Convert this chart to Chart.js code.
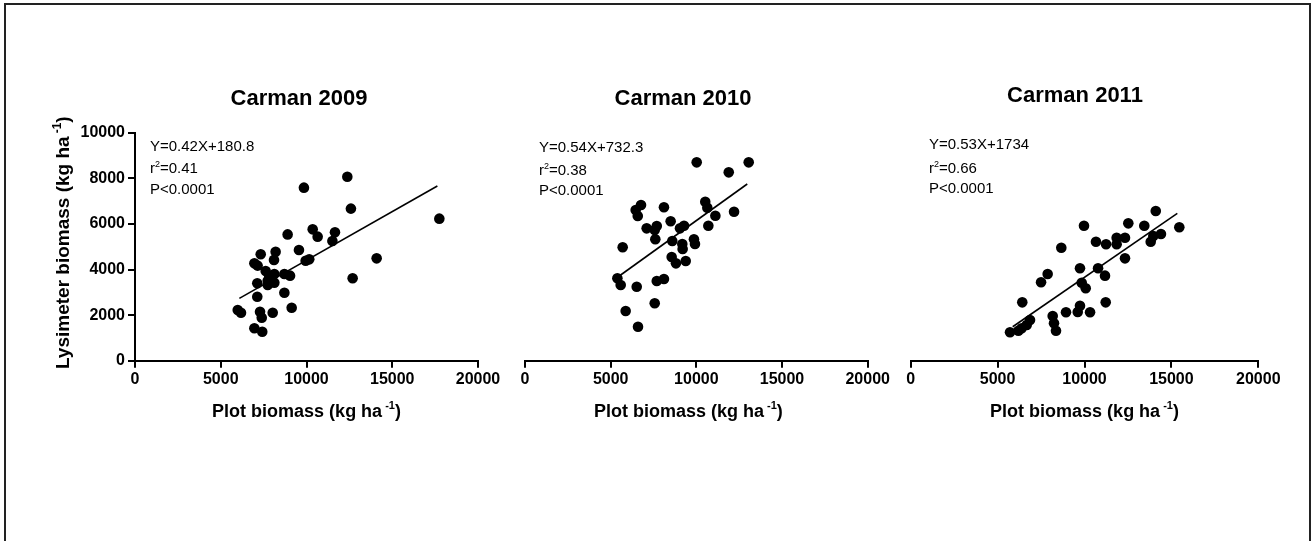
<!DOCTYPE html>
<html>
<head>
<meta charset="utf-8">
<script src="https://cdn.jsdelivr.net/npm/chart.js@4"></script>
<style>
  html, body { margin: 0; padding: 0; background: #fff; overflow: hidden; }
  #wrap { position: relative; width: 1313px; height: 541px; }
  #wrap canvas { position: absolute; left: 0; top: 0; }
  #frame { position: absolute; left: 4px; top: 3px; width: 1303px; height: 600px; border: 2px solid #222; }
</style>
</head>
<body>
<div id="wrap">
  <div id="frame"></div>
  <canvas id="c2009" width="1313" height="541"></canvas>
  <canvas id="c2010" width="1313" height="541"></canvas>
  <canvas id="c2011" width="1313" height="541"></canvas>
</div>
<script>
// plot biomass (x) vs lysimeter biomass (y), kg/ha
const x2009 = [12380, 9850, 12590, 17745, 8900, 10360, 10650, 11660, 11510, 9560, 14090, 12690, 7330, 8200, 8105, 6960, 7150, 9950, 10160, 7620, 8125, 7830, 8710, 9040, 7130, 7740, 8125, 7740, 8710, 7130, 9135, 5990, 6180, 7290, 7390, 8030, 6960, 7420];
const y2009 = [8070, 7590, 6670, 6230, 5540, 5760, 5440, 5630, 5250, 4855, 4490, 3615, 4670, 4780, 4420, 4270, 4170, 4385, 4445, 3935, 3800, 3685, 3800, 3730, 3395, 3320, 3420, 3510, 2980, 2805, 2325, 2225, 2105, 2150, 1885, 2105, 1420, 1270];

const x2010 = [10020, 13055, 11890, 10520, 10640, 12200, 11110, 10700, 6770, 6460, 6580, 8110, 8500, 7100, 7690, 7570, 9045, 9280, 7605, 8595, 9180, 9200, 9860, 9920, 5700, 8560, 8810, 9380, 5390, 5585, 6520, 7690, 8110, 7570, 5875, 6595];
const y2010 = [8700, 8700, 8260, 6970, 6710, 6535, 6360, 5920, 6830, 6610, 6345, 6730, 6115, 5805, 5910, 5730, 5805, 5920, 5325, 5250, 5120, 4900, 5325, 5120, 4975, 4550, 4270, 4370, 3615, 3320, 3245, 3495, 3585, 2520, 2180, 1490];

const x2011 = [14100, 15455, 12520, 13440, 9970, 14400, 13810, 13960, 11850, 12330, 11850, 10660, 11240, 8665, 12330, 9740, 10780, 11180, 7880, 7500, 9840, 10070, 6420, 11220, 8170, 8245, 8360, 8935, 9740, 9610, 10320, 6865, 6675, 6385, 6195, 5715];
const y2011 = [6565, 5850, 6025, 5920, 5920, 5555, 5220, 5470, 5395, 5395, 5105, 5220, 5105, 4955, 4490, 4055, 4055, 3730, 3805, 3440, 3420, 3175, 2560, 2560, 1960, 1640, 1315, 2125, 2410, 2135, 2125, 1785, 1565, 1420, 1315, 1245];

// fitted line end points
const fit2009x = [6085, 17630], fit2009y = [2735, 7660];
const fit2010x = [5500, 12970], fit2010y = [3715, 7750];
const fit2011x = [5870, 15340], fit2011y = [1490, 6465];

const panelTitles = ['Carman 2009', 'Carman 2010', 'Carman 2011'];
const equations = ['Y=0.42X+180.8', 'Y=0.54X+732.3', 'Y=0.53X+1734'];
const rSquared = ['=0.41', '=0.38', '=0.66'];
const pValues = ['P<0.0001', 'P<0.0001', 'P<0.0001'];
const xTicks = [0, 5000, 10000, 15000, 20000];
const yTicks = [0, 2000, 4000, 6000, 8000, 10000];

const FONT = '"Liberation Sans", Arial, Helvetica, sans-serif';

function toPts(xs, ys) {
  return xs.map((x, i) => ({ x: x, y: ys[i] }));
}

// draws a run of text pieces, some raised as superscript
function drawRich(ctx, x, y, parts, size, weight, align) {
  const big = weight + ' ' + size + 'px ' + FONT;
  const small = weight + ' ' + Math.round(size * 0.62) + 'px ' + FONT;
  let w = 0;
  parts.forEach(p => { ctx.font = p.sup ? small : big; w += ctx.measureText(p.t).width + (p.gap || 0); });
  let cx = align === 'center' ? x - w / 2 : x;
  ctx.textAlign = 'left';
  ctx.textBaseline = 'alphabetic';
  parts.forEach(p => {
    ctx.font = p.sup ? small : big;
    cx += (p.gap || 0);
    ctx.fillText(p.t, cx, p.sup ? y - size * 0.42 : y);
    cx += ctx.measureText(p.t).width;
  });
}

const panelText = {
  id: 'panelText',
  afterDraw(chart, args, opts) {
    const ctx = chart.ctx;
    const a = chart.chartArea;
    const i = opts.index;
    ctx.save();
    ctx.fillStyle = '#000';
    // panel title
    ctx.font = 'bold 22px ' + FONT;
    ctx.textAlign = 'center';
    ctx.textBaseline = 'alphabetic';
    ctx.fillText(panelTitles[i], opts.titleX, opts.titleY);
    // x axis title
    drawRich(ctx, (a.left + a.right) / 2 + opts.xtOff, 417,
      [{ t: 'Plot biomass (kg ha' }, { t: '-1', sup: true, gap: 3 }, { t: ')' }], 18, 'bold', 'center');
    // regression text
    drawRich(ctx, opts.textX, opts.lines[0], [{ t: equations[i] }], 15, 'normal', 'left');
    drawRich(ctx, opts.textX, opts.lines[1], [{ t: 'r' }, { t: '2', sup: true }, { t: rSquared[i] }], 15, 'normal', 'left');
    drawRich(ctx, opts.textX, opts.lines[2], [{ t: pValues[i] }], 15, 'normal', 'left');
    // y axis title (first panel only)
    if (opts.yTitle) {
      ctx.translate(69, (a.top + a.bottom) / 2 - 4);
      ctx.rotate(-Math.PI / 2);
      drawRich(ctx, 0, 0, [{ t: 'Lysimeter biomass (kg ha' }, { t: '-1', sup: true, gap: 3 }, { t: ')' }], 19, 'bold', 'center');
    }
    ctx.restore();
  }
};

function makePanel(id, xs, ys, fx, fy, left, right, showY, textOpts) {
  new Chart(document.getElementById(id), {
    type: 'scatter',
    data: {
      datasets: [
        {
          data: toPts(xs, ys),
          pointRadius: 5.3,
          pointBorderWidth: 0,
          backgroundColor: '#000',
          borderColor: '#000'
        },
        {
          data: toPts(fx, fy),
          showLine: true,
          pointRadius: 0,
          borderColor: '#000',
          borderWidth: 1.6
        }
      ]
    },
    options: {
      responsive: false,
      animation: false,
      events: [],
      layout: { padding: { left: showY ? 0 : left, right: 1313 - right, top: 132.7, bottom: 541 - 360.7 - 40 } },
      plugins: {
        legend: { display: false },
        tooltip: { enabled: false },
        panelText: textOpts
      },
      scales: {
        x: {
          type: 'linear',
          min: 0, max: 20000,
          afterBuildTicks: s => { s.ticks = xTicks.map(v => ({ value: v })); },
          afterFit: s => { s.height = 40; },
          ticks: { color: '#000', font: { family: FONT, size: 16, weight: 'bold' }, padding: 2, maxRotation: 0, callback: v => String(v) },
          grid: { drawOnChartArea: false, drawTicks: true, tickLength: 7, color: '#000', lineWidth: 2 },
          border: { display: true, color: '#000', width: 2 }
        },
        y: {
          display: showY,
          min: 0, max: 10000,
          afterBuildTicks: s => { s.ticks = yTicks.map(v => ({ value: v })); },
          afterFit: s => { s.width = showY ? left : 0; },
          ticks: { color: '#000', font: { family: FONT, size: 16, weight: 'bold' }, padding: 3, callback: v => String(v) },
          grid: { drawOnChartArea: false, drawTicks: true, tickLength: 7, color: '#000', lineWidth: 2 },
          border: { display: true, color: '#000', width: 2 }
        }
      }
    },
    plugins: [panelText]
  });
}

makePanel('c2009', x2009, y2009, fit2009x, fit2009y, 135, 478, true,
  { index: 0, titleX: 299, titleY: 105, textX: 150, lines: [151, 173, 194], xtOff: 0, yTitle: true });
makePanel('c2010', x2010, y2010, fit2010x, fit2010y, 525, 867.7, false,
  { index: 1, titleX: 683, titleY: 105, textX: 539, lines: [152, 175, 195], xtOff: -8, yTitle: false });
makePanel('c2011', x2011, y2011, fit2011x, fit2011y, 910.7, 1258.3, false,
  { index: 2, titleX: 1075, titleY: 102, textX: 929, lines: [149, 173, 193], xtOff: 0, yTitle: false });
</script>
</body>
</html>
